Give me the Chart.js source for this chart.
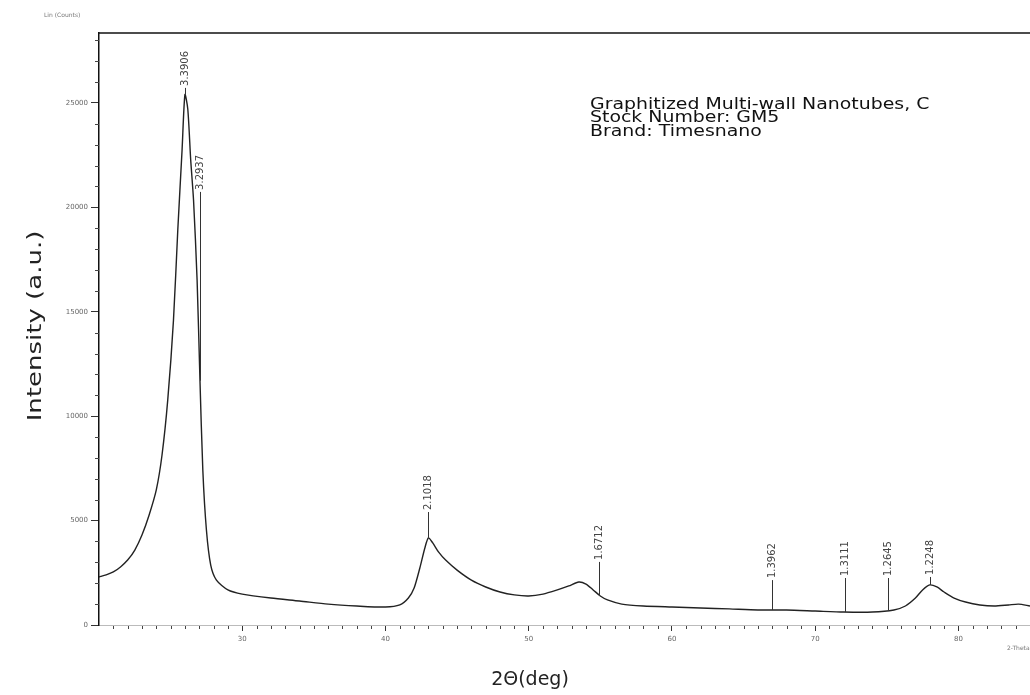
<!DOCTYPE html>
<html>
<head>
<meta charset="utf-8">
<title>XRD - Graphitized Multi-wall Nanotubes</title>
<script src="https://cdn.jsdelivr.net/npm/chart.js@4.4.1/dist/chart.umd.min.js"></script>
<style>
    body { margin: 0; background: #fff; }
    #xrd-chart { display: block; }
</style>
</head>
<body>
<canvas id="xrd-chart" width="1030" height="695"></canvas>
<script>
// Data (2-theta in degrees, intensity in counts)
const twoTheta = [
    20.0, 20.5, 21.0, 21.5, 22.0, 22.5, 23.0, 23.5, 24.0, 24.4,
    24.8, 25.2, 25.5, 25.8, 26.0, 26.2, 26.4, 26.6, 26.85, 27.05,
    27.25, 27.5, 27.8, 28.2, 29.0, 30.0, 32.0, 34.0, 36.0, 38.0,
    40.0, 41.0, 41.6, 42.0, 42.4, 42.75, 43.0, 43.3, 43.7, 44.2,
    45.0, 46.0, 47.0, 48.0, 49.0, 50.0, 51.0, 52.0, 52.8, 53.5,
    54.0, 54.5, 55.0, 55.5, 56.5, 58.0, 60.0, 62.0, 64.0, 66.0,
    68.0, 70.0, 72.0, 74.0, 75.5, 76.3, 77.0, 77.5, 78.0, 78.5,
    79.0, 79.7, 80.5, 81.5, 82.5, 83.5, 84.2, 85.0
];
const intensity = [
    2300, 2400, 2540, 2780, 3110, 3590, 4310, 5270, 6470, 8140,
    10780, 14600, 18900, 22750, 25400, 24700, 22300, 20350, 16500, 11700,
    7400, 4550, 2870, 2150, 1680, 1480, 1290, 1150, 1000, 910,
    860, 960, 1290, 1770, 2730, 3690, 4170, 3930, 3500, 3110,
    2630, 2150, 1820, 1580, 1440, 1390, 1480, 1680, 1870, 2060,
    1960, 1680, 1390, 1200, 1000, 910, 860, 815, 770, 720,
    720, 670, 620, 620, 720, 910, 1290, 1680, 1920, 1820,
    1580, 1290, 1100, 960, 910, 960, 1000, 910
];

// Axis ticks
const yTicks = [0, 5000, 10000, 15000, 20000, 25000];
const xTicks = [30, 40, 50, 60, 70, 80];

// Peak markers: position, d-spacing label, stick from curve up to the label
const peakAngles = [26.0, 27.05, 43.0, 54.9, 66.97, 72.06, 75.06, 78.0];
const peakLabels = ['3.3906', '3.2937', '2.1018', '1.6712', '1.3962', '1.3111', '1.2645', '1.2248'];
const peakBase = [25400, 11700, 4170, 1390, 720, 620, 700, 1920];
const peakTop = [25720, 20740, 5410, 3020, 2150, 2250, 2250, 2300];

const infoLines = [
    'Graphitized Multi-wall Nanotubes, C',
    'Stock Number: GM5',
    'Brand: Timesnano'
];

const yMax = 28350;

// Draws minor ticks, the frame top, peak sticks/labels and texts
const decorPlugin = {
    id: 'decor',
    afterDraw(chart) {
        const ctx = chart.ctx;
        const area = chart.chartArea;
        const xs = chart.scales.x;
        const ys = chart.scales.y;

        ctx.save();

        // top frame line
        ctx.strokeStyle = '#111';
        ctx.lineWidth = 1.5;
        ctx.beginPath();
        ctx.moveTo(area.left, area.top);
        ctx.lineTo(area.right, area.top);
        ctx.stroke();

        // minor ticks on y
        ctx.strokeStyle = '#444';
        ctx.lineWidth = 1;
        for (let v = 1000; v < yMax; v += 1000) {
            if (v % 5000 === 0) continue;
            const py = Math.round(ys.getPixelForValue(v)) + 0.5;
            ctx.beginPath();
            ctx.moveTo(area.left - 4, py);
            ctx.lineTo(area.left, py);
            ctx.stroke();
        }

        // minor ticks on x
        for (let d = 21; d < 85; d++) {
            if (d % 10 === 0) continue;
            const px = Math.round(xs.getPixelForValue(d)) + 0.5;
            ctx.beginPath();
            ctx.moveTo(px, area.bottom + 1);
            ctx.lineTo(px, area.bottom + 4);
            ctx.stroke();
        }

        // peak sticks and d-spacing labels
        ctx.font = '10px "DejaVu Sans"';
        ctx.fillStyle = '#444';
        ctx.textBaseline = 'middle';
        ctx.textAlign = 'left';
        peakAngles.forEach((angle, i) => {
            const px = Math.round(xs.getPixelForValue(angle)) + 0.5;
            const yBottom = ys.getPixelForValue(peakBase[i]);
            const yTop = ys.getPixelForValue(peakTop[i]);
            ctx.strokeStyle = '#333';
            ctx.lineWidth = 1;
            ctx.beginPath();
            ctx.moveTo(px, yBottom);
            ctx.lineTo(px, yTop);
            ctx.stroke();

            ctx.save();
            ctx.translate(px, yTop - 2);
            ctx.rotate(-Math.PI / 2);
            ctx.fillText(peakLabels[i], 0, 0);
            ctx.restore();
        });

        // sample info (wide lettering, so stretch horizontally)
        ctx.font = '15px "DejaVu Sans"';
        ctx.fillStyle = '#111';
        ctx.textBaseline = 'middle';
        infoLines.forEach((line, i) => {
            ctx.save();
            ctx.translate(590, 105 + i * 13.5);
            ctx.scale(1.26, 1);
            ctx.fillText(line, 0, 0);
            ctx.restore();
        });

        // axis titles
        ctx.font = '19px "DejaVu Sans"';
        ctx.fillStyle = '#222';
        ctx.textAlign = 'center';
        ctx.fillText('2\u0398(deg)', 530, 680);

        ctx.save();
        ctx.translate(36, 326);
        ctx.rotate(-Math.PI / 2);
        ctx.scale(1.3, 1);
        ctx.font = '20px "DejaVu Sans"';
        ctx.fillText('Intensity (a.u.)', 0, 0);
        ctx.restore();

        // small corner captions
        ctx.font = '6px "DejaVu Sans"';
        ctx.fillStyle = '#777';
        ctx.textAlign = 'left';
        ctx.fillText('Lin (Counts)', 44, 15);
        ctx.fillText('2-Theta - Scale', 1007, 648);

        ctx.restore();
    }
};

const points = twoTheta.map((t, i) => ({ x: t, y: intensity[i] }));

new Chart(document.getElementById('xrd-chart'), {
    type: 'line',
    data: {
        datasets: [{
            label: 'GM5',
            data: points,
            borderColor: '#222',
            borderWidth: 1.4,
            pointRadius: 0,
            tension: 0.25,
            fill: false
        }]
    },
    options: {
        responsive: false,
        animation: false,
        devicePixelRatio: 1,
        layout: {
            padding: { top: 33, right: 0, left: 0, bottom: 0 }
        },
        plugins: {
            legend: { display: false },
            tooltip: { enabled: false }
        },
        scales: {
            x: {
                type: 'linear',
                min: 20,
                max: 85,
                afterFit: function(scale) {
                    scale.height = 70;
                },
                afterBuildTicks: function(scale) {
                    scale.ticks = xTicks.map(v => ({ value: v }));
                },
                border: {
                    display: true,
                    color: '#bbb',
                    dash: [2, 3],
                    width: 1
                },
                grid: {
                    drawOnChartArea: false,
                    tickLength: 6,
                    color: '#333'
                },
                ticks: {
                    maxRotation: 0,
                    autoSkip: false,
                    padding: 4,
                    color: '#666',
                    font: { family: 'DejaVu Sans', size: 7 },
                    callback: function(value) {
                        return String(value);
                    }
                }
            },
            y: {
                min: 0,
                max: yMax,
                afterFit: function(scale) {
                    scale.width = 99;
                },
                afterBuildTicks: function(scale) {
                    scale.ticks = yTicks.map(v => ({ value: v }));
                },
                border: {
                    display: true,
                    color: '#111',
                    width: 1.5
                },
                grid: {
                    drawOnChartArea: false,
                    tickLength: 8,
                    color: '#333'
                },
                ticks: {
                    autoSkip: false,
                    padding: 3,
                    color: '#666',
                    font: { family: 'DejaVu Sans', size: 7 },
                    callback: function(value) {
                        return String(value);
                    }
                }
            }
        }
    },
    plugins: [decorPlugin]
});
</script>
</body>
</html>
